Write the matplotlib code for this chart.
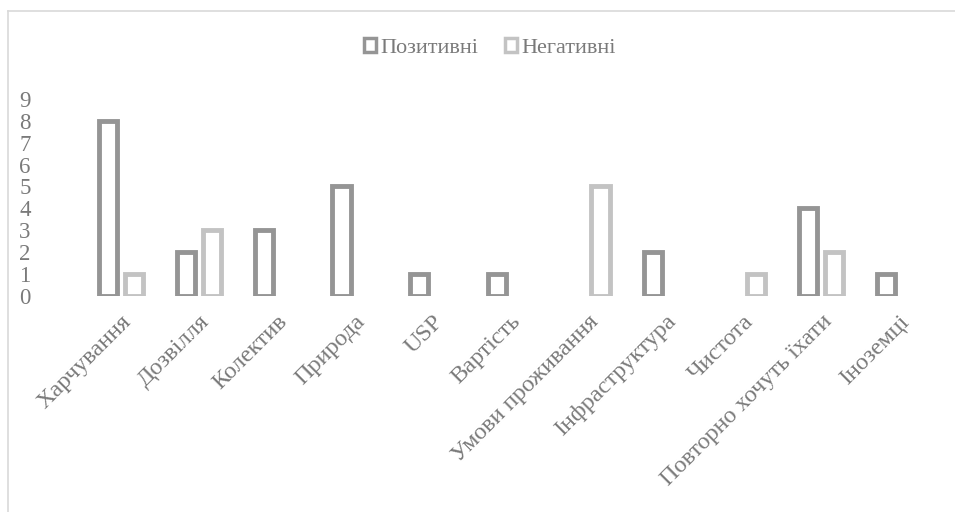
import numpy as np
from matplotlib import pyplot as plt
from matplotlib.patches import Patch
from matplotlib.lines import Line2D

categories = ['Харчування', 'Дозвілля', 'Колектив', 'Природа', 'USP', 'Вартість',
              'Умови проживання', 'Інфраструктура', 'Чистота', 'Повторно хочуть їхати',
              'Іноземці']
positive = np.array([8, 2, 3, 5, 1, 1, 0, 2, 0, 4, 1])
negative = np.array([1, 3, 0, 0, 0, 0, 5, 0, 1, 2, 0])

dark = '#959595'
light = '#c3c3c3'
text_c = '#7a7a7a'

plt.rcParams['font.family'] = ['Liberation Serif', 'DejaVu Serif']

fig = plt.figure(dpi=100, figsize=(9.55, 5.12))
ax = fig.add_axes([0.086, 0.422, 0.896, 0.385])

x = np.arange(len(categories))
w = 0.235
off = 0.165
lw = 3.5

# skip zero values (Excel draws nothing there)
mp = positive > 0
mn = negative > 0
ax.bar(x[mp] - off, positive[mp], width=w, facecolor='white', edgecolor=dark, linewidth=lw)
ax.bar(x[mn] + off, negative[mn], width=w, facecolor='white', edgecolor=light, linewidth=lw)

ax.set_xlim(-0.5, len(categories) - 0.5)
ax.set_ylim(0, 9)
ax.set_yticks(range(10))
ax.set_xticks(x)
ax.set_xticklabels(categories, rotation=45, ha='right', va='top', rotation_mode='anchor',
                   fontsize=17.5)
ax.tick_params(axis='both', length=0, labelcolor=text_c)
ax.tick_params(axis='y', pad=37, labelsize=16.5)
ax.tick_params(axis='x', pad=11)
for s in ax.spines.values():
    s.set_visible(False)

handles = [Patch(facecolor='white', edgecolor=dark, linewidth=2.5, label='Позитивні'),
           Patch(facecolor='white', edgecolor=light, linewidth=2.5, label='Негативні')]
leg = fig.legend(handles=handles, loc='center', bbox_to_anchor=(0.513, 0.906), ncol=2,
                 frameon=False, fontsize=16, handlelength=0.55, handleheight=0.55,
                 handletextpad=0.2, columnspacing=1.2)
for t in leg.get_texts():
    t.set_color(text_c)

# chart border (left and top visible)
fig.add_artist(Line2D([0.0085, 0.0085], [0, 0.978], color='#d9d9d9', lw=1.2))
fig.add_artist(Line2D([0.0085, 1], [0.978, 0.978], color='#d9d9d9', lw=1.2))

plt.savefig('out.png', dpi=100)
